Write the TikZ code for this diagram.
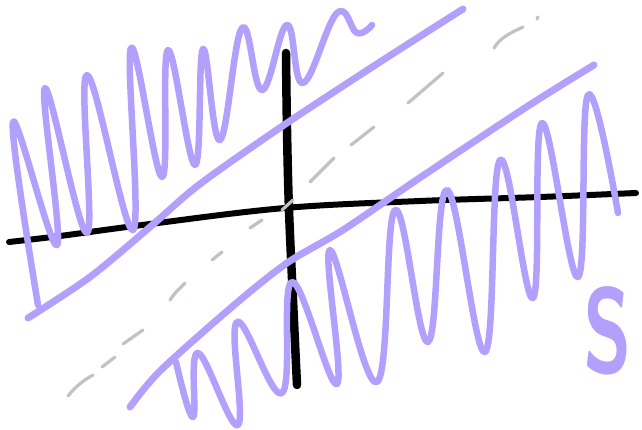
\documentclass[tikz,border=0pt]{standalone}
\usepackage{xcolor}
\definecolor{lav}{RGB}{178,160,252}
\definecolor{dashgray}{RGB}{196,194,188}
\tikzset{
  axisline/.style={line width=6pt, line cap=round, line join=round, black},
  lavline/.style={line width=7pt, line cap=round, line join=round, lav},
  squig/.style={line width=6.5pt, line cap=round, line join=round, lav},
  dashpiece/.style={line width=3.2pt, line cap=round, dashgray},
}
\begin{document}
\begin{tikzpicture}[x=1pt,y=-1pt]
\useasboundingbox (0,0) rectangle (642,430);
% axes
\draw[axisline] plot[smooth, tension=0.6] coordinates {(9,242) (60,236) (150,224) (285,208) (420,201) (540,197) (636,193)};
\draw[axisline, line width=8.5pt] plot[smooth, tension=0.6] coordinates {(286,53) (287,130) (289,210) (293,300) (297,385)};
% gray dashed diagonal
\draw[dashpiece] (68,396) .. controls (76,386) and (84,380) .. (93,375);
\draw[dashpiece] (102,367) -- (115,357);
\draw[dashpiece] (123,344) -- (143,330);
\draw[dashpiece] (170,300) .. controls (175,293) .. (185,283);
\draw[dashpiece] (212,260) -- (222,252);
\draw[dashpiece] (250,228) -- (262,220);
\draw[dashpiece] (282,210) -- (293,200);
\draw[dashpiece] (310,182) -- (334,158);
\draw[dashpiece] (351,145) -- (374,127);
\draw[dashpiece] (408,103) -- (443,73);
\draw[dashpiece] (494,48) .. controls (500,38) and (510,33) .. (523,27);
\draw[dashpiece] (537,19) -- (538,17);
% lavender diagonals
\draw[lavline] plot[smooth, tension=0.5] coordinates {(28,318) (90,277) (150,227) (200,184) (287,123) (380,62) (463,9)};
\draw[lavline] plot[smooth, tension=0.5] coordinates {(130,407) (160,371) (233,306) (287,263) (343,230) (421,177) (528,106) (594,65)};
% upper squiggle
\draw[squig] plot[smooth, tension=0.7] coordinates {
 (38,305) (13,122) (57,245) (45,88) (87,233) (87,75) (133,230) (131,48)
 (162,177) (168,50) (195,165) (203,49) (220,140) (242,28) (262,90)
 (287,25) (303,83) (337,13) (357,33) (372,25)};
% lower squiggle
\draw[squig] plot[smooth, tension=0.7] coordinates {
 (176,362) (193,417) (198,353) (238,425) (237,322) (282,393) (292,282)
 (337,384) (330,250) (377,382) (395,210) (428,342) (447,190) (485,352)
 (500,160) (533,298) (542,123) (578,277) (588,95) (618,213)};
% letter
\node[text=lav, font=\fontsize{120}{120}\selectfont\sffamily\bfseries, xscale=0.66, inner sep=0pt] (s) at (608,331) {S};
\end{tikzpicture}
\end{document}
